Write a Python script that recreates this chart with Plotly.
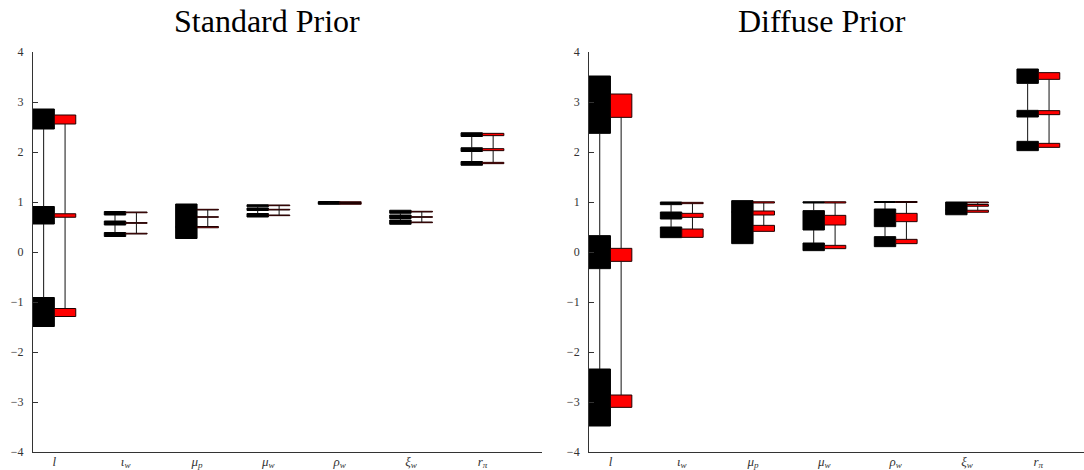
import plotly.graph_objects as go

# ---------------- data ----------------
categories = ["l", "ι_w", "μ_p", "μ_w", "ρ_w", "ξ_w", "r_π"]
tick_labels = ["<i>l</i>", "<i>ι<sub>w</sub></i>", "<i>μ<sub>p</sub></i>", "<i>μ<sub>w</sub></i>",
               "<i>ρ<sub>w</sub></i>", "<i>ξ<sub>w</sub></i>", "<i>r<sub>π</sub></i>"]
panel_titles = ["Standard Prior", "Diffuse Prior"]
y_ticks = [-4, -3, -2, -1, 0, 1, 2, 3, 4]

# Standard prior, black series: (lo, hi) of lower / middle / upper boxes
std_black_low_lo = [-1.49, 0.31, 0.27, 0.70, 0.955, 0.555, 1.735]
std_black_low_hi = [-0.91, 0.39, 0.50, 0.77, 0.975, 0.640, 1.810]
std_black_mid_lo = [0.56, 0.54, 0.50, 0.83, 0.965, 0.670, 2.010]
std_black_mid_hi = [0.91, 0.62, 0.75, 0.88, 0.990, 0.740, 2.085]
std_black_up_lo = [2.46, 0.74, 0.75, 0.905, 0.980, 0.775, 2.310]
std_black_up_hi = [2.86, 0.81, 0.96, 0.945, 1.010, 0.835, 2.385]

# Standard prior, red series
std_red_low_lo = [-1.29, 0.360, 0.485, 0.727, 0.955, 0.586, 1.767]
std_red_low_hi = [-1.13, 0.375, 0.510, 0.740, 0.970, 0.600, 1.793]
std_red_mid_lo = [0.695, 0.573, 0.694, 0.840, 0.970, 0.693, 2.027]
std_red_mid_hi = [0.765, 0.588, 0.706, 0.854, 0.985, 0.707, 2.067]
std_red_up_lo = [2.56, 0.785, 0.840, 0.926, 0.990, 0.800, 2.327]
std_red_up_hi = [2.74, 0.800, 0.854, 0.940, 1.005, 0.814, 2.373]

# Diffuse prior, black series
dif_black_low_lo = [-3.48, 0.287, 0.167, 0.027, 0.107, 0.745, 2.027]
dif_black_low_hi = [-2.34, 0.500, 0.450, 0.180, 0.307, 0.840, 2.213]
dif_black_mid_lo = [-0.333, 0.660, 0.450, 0.440, 0.507, 0.840, 2.700]
dif_black_mid_hi = [0.327, 0.800, 0.800, 0.827, 0.860, 0.930, 2.833]
dif_black_up_lo = [2.373, 0.947, 0.800, 0.980, 0.990, 0.930, 3.373]
dif_black_up_hi = [3.520, 1.000, 1.027, 1.005, 1.010, 1.000, 3.660]

# Diffuse prior, red series
dif_red_low_lo = [-3.107, 0.293, 0.413, 0.067, 0.167, 0.795, 2.093]
dif_red_low_hi = [-2.860, 0.460, 0.533, 0.133, 0.253, 0.835, 2.173]
dif_red_mid_lo = [-0.187, 0.693, 0.740, 0.540, 0.607, 0.915, 2.747]
dif_red_mid_hi = [0.073, 0.773, 0.820, 0.733, 0.773, 0.950, 2.827]
dif_red_up_lo = [2.693, 0.967, 0.980, 0.980, 0.990, 0.982, 3.453]
dif_red_up_hi = [3.160, 0.993, 1.005, 1.005, 1.010, 1.000, 3.587]

positions = list(range(1, len(categories) + 1))

panels = [
    dict(
        black=[(std_black_low_lo, std_black_low_hi), (std_black_mid_lo, std_black_mid_hi),
               (std_black_up_lo, std_black_up_hi)],
        red=[(std_red_low_lo, std_red_low_hi), (std_red_mid_lo, std_red_mid_hi),
             (std_red_up_lo, std_red_up_hi)],
    ),
    dict(
        black=[(dif_black_low_lo, dif_black_low_hi), (dif_black_mid_lo, dif_black_mid_hi),
               (dif_black_up_lo, dif_black_up_hi)],
        red=[(dif_red_low_lo, dif_red_low_hi), (dif_red_mid_lo, dif_red_mid_hi),
             (dif_red_up_lo, dif_red_up_hi)],
    ),
]

series_style = {
    "black": dict(fill="#000000", line="#000000", offset=-0.3),
    "red": dict(fill="#ff0000", line="#200000", offset=0.0),
}
BOX_W = 0.3

fig = go.Figure()
for p_i, panel in enumerate(panels):
    xa = "x" if p_i == 0 else "x2"
    ya = "y" if p_i == 0 else "y2"
    # whiskers (drawn between the boxes)
    for name in ["black", "red"]:
        st = series_style[name]
        boxes = panel[name]
        wx, wy = [], []
        for k, pos in enumerate(positions):
            cx = pos + st["offset"] + BOX_W / 2
            low_hi = boxes[0][1][k]
            mid_lo = boxes[1][0][k]
            mid_hi = boxes[1][1][k]
            up_lo = boxes[2][0][k]
            wx += [cx, cx, None, cx, cx, None]
            wy += [low_hi, mid_lo, None, mid_hi, up_lo, None]
        fig.add_trace(go.Scatter(x=wx, y=wy, mode="lines", xaxis=xa, yaxis=ya,
                                 line=dict(color="#111111", width=1),
                                 hoverinfo="skip", showlegend=False))
    for name in ["black", "red"]:
        st = series_style[name]
        for lo, hi in panel[name]:
            fig.add_trace(go.Bar(
                x=positions, base=lo, y=[h - l for l, h in zip(lo, hi)],
                width=BOX_W, offset=st["offset"], xaxis=xa, yaxis=ya,
                marker=dict(color=st["fill"], line=dict(color=st["line"], width=1)),
                showlegend=False, hoverinfo="skip"))

fig.update_layout(
    width=1084, height=470,
    margin=dict(l=0, r=0, t=52, b=18),
    paper_bgcolor="white", plot_bgcolor="white",
    barmode="overlay",
    showlegend=False,
    font=dict(family="Liberation Serif", color="#222222"),
)

axis_common_x = dict(
    tickmode="array", tickvals=positions, ticktext=tick_labels,
    showgrid=False, zeroline=False, showline=True, linecolor="#333333", linewidth=1,
    ticks="", ticklabelstandoff=-3, automargin=False,
    tickfont=dict(family="Liberation Serif", size=13, color="#333333"),
)
axis_common_y = dict(
    range=[-4, 4], tickmode="array", tickvals=y_ticks,
    showgrid=False, zeroline=False, showline=True, linecolor="#333333", linewidth=1,
    ticks="inside", ticklen=5, tickcolor="#333333", ticklabelstandoff=6, automargin=False,
    tickfont=dict(family="Liberation Serif", size=12, color="#333333"),
)
fig.update_layout(
    xaxis=dict(domain=[0.0304, 0.4997], range=[0.7, 7.83], anchor="y", **axis_common_x),
    xaxis2=dict(domain=[0.5434, 1.0], range=[0.7, 7.64], anchor="y2", **axis_common_x),
    yaxis=dict(anchor="x", **axis_common_y),
    yaxis2=dict(anchor="x2", **axis_common_y),
)

title_x = [0.2463, 0.7583]
for t, xp in zip(panel_titles, title_x):
    fig.add_annotation(text=t, x=xp, y=1.078, xref="paper", yref="paper",
                       xanchor="center", yanchor="middle", showarrow=False,
                       font=dict(family="Liberation Serif", size=32, color="#000000"))

fig.write_html("out.html", config={"displayModeBar": False},
               post_script="document.body.style.margin='0';document.body.style.overflow='hidden';")
